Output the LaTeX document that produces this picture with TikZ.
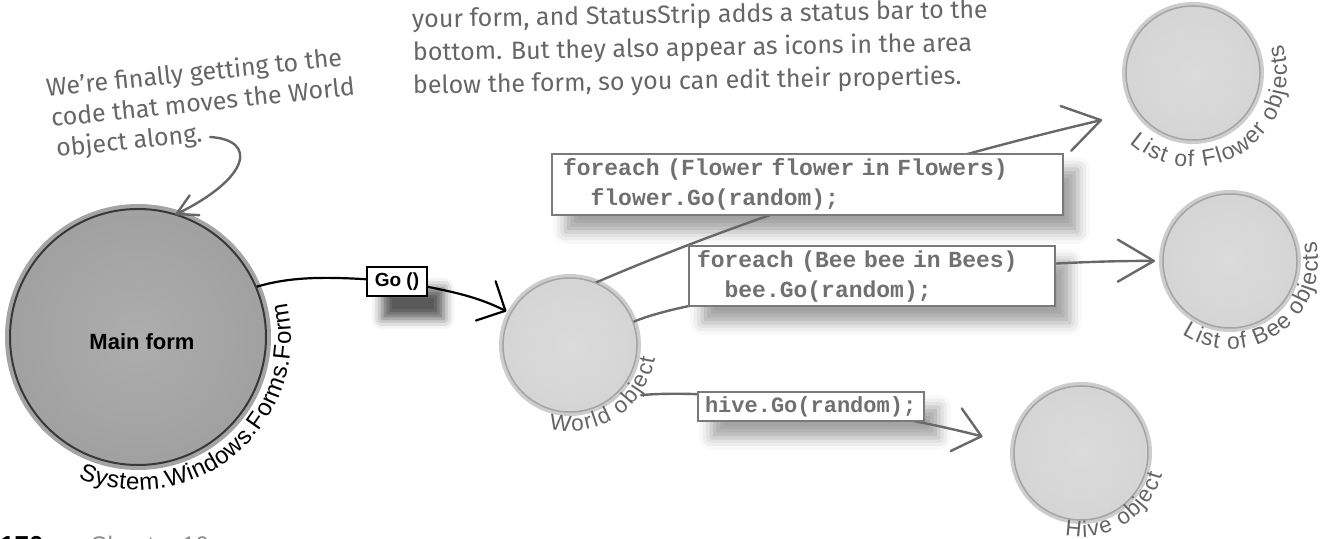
\documentclass[tikz,border=0pt]{standalone}
\usepackage{fontspec}
\setmainfont{Liberation Sans}
\newfontfamily\handfont{Fira Sans}
\newfontfamily\codefont{Liberation Mono}
\usetikzlibrary{arrows.meta,decorations.text,shadows.blur}

\definecolor{handgray}{HTML}{666666}
\definecolor{codegray}{HTML}{707070}
\definecolor{boxgray}{HTML}{7A7A7A}
\definecolor{wiregray}{HTML}{686868}
\definecolor{labelgray}{HTML}{646464}
\definecolor{lightin}{HTML}{DBDBDB}
\definecolor{lightmid}{HTML}{D3D3D3}
\definecolor{lightout}{HTML}{BEBEBE}
\definecolor{lightrim}{HTML}{A4A4A4}
\definecolor{lighthalo}{HTML}{CDCDCD}
\definecolor{darkin}{HTML}{ADADAD}
\definecolor{darkmid}{HTML}{9E9E9E}
\definecolor{darkout}{HTML}{767676}
\definecolor{darkrim}{HTML}{383838}
\definecolor{darkhalo}{HTML}{A4A4A4}

\pgfdeclareradialshading{lightball}{\pgfpoint{0bp}{0bp}}%
  {color(0bp)=(lightin); color(32bp)=(lightmid); color(46bp)=(lightout); color(50bp)=(lightrim)}
\pgfdeclareradialshading{darkball}{\pgfpoint{0bp}{0bp}}%
  {color(0bp)=(darkin); color(30bp)=(darkmid); color(45bp)=(darkout); color(50bp)=(darkout)}

\pgfdeclarelayer{shadowlayer}
\pgfdeclarelayer{wirelayer}
\pgfsetlayers{shadowlayer,wirelayer,main}

\tikzset{
  lightobj/.style={circle, inner sep=0pt, outer sep=0pt, minimum size=134pt,
    shade, shading=lightball, draw=lightrim, line width=1.5pt},
  darkobj/.style={circle, inner sep=0pt, outer sep=0pt, minimum size=256pt,
    shade, shading=darkball, draw=darkrim, line width=2pt},
  codebox/.style={draw=boxgray, line width=1.6pt, fill=white, inner ysep=0pt,
    align=left, text=codegray, font=\codefont\bfseries\fontsize{23}{30}\selectfont},
  boxshadow/.style={blur shadow={shadow xshift=14pt, shadow yshift=-16pt,
    shadow blur radius=12pt, shadow opacity=36}},
  goshadow/.style={blur shadow={shadow xshift=16pt, shadow yshift=-22pt,
    shadow blur radius=10pt, shadow opacity=65}},
  gobox/.style={draw=black, line width=1.8pt, fill=white, inner sep=0pt,
    minimum width=60pt, minimum height=29pt, font=\bfseries\fontsize{19}{19}\selectfont},
  wire/.style={draw=wiregray, line width=2.4pt, line cap=round},
  handtext/.style={inner sep=0pt, anchor=base west, text=handgray,
    font=\handfont\fontsize{25}{33}\selectfont},
  arclabel/.style={decorate, decoration={text along path, text align=fit to path, text={#1}}}
}

\begin{document}
\begin{tikzpicture}[x=1pt,y=1pt]
\useasboundingbox (0,0) rectangle (1330,538);

% ---- object bubbles ----
\node[darkobj] (main) at (138,201) {};
\node[font=\bfseries\fontsize{22}{22}\selectfont] (mainlbl) at (142,196) {Main form};
\node[lightobj] (world) at (570,193) {};
\node[lightobj] (flower) at (1193,465) {};
\node[lightobj] (bee) at (1230,277) {};
\node[lightobj] (hive) at (1081,85) {};

% ---- labels bent round the bubbles ----
\path[arclabel={|\fontsize{24}{24}\selectfont|System.Windows.Forms.Form}]
  ([shift={(-113:153)}]main.center) arc[start angle=-113, end angle=13, radius=153];
\path[arclabel={|\fontsize{22.5}{22.5}\selectfont\color{labelgray}|World object}]
  ([shift={(-104:86)}]world.center) arc[start angle=-104, end angle=-9, radius=86];
\path[arclabel={|\fontsize{23}{23}\selectfont\color{labelgray}|List of Flower objects}]
  ([shift={(-132:94)}]flower.center) arc[start angle=-132, end angle=18, radius=94];
\path[arclabel={|\fontsize{23}{23}\selectfont\color{labelgray}|List of Bee objects}]
  ([shift={(-123:88)}]bee.center) arc[start angle=-123, end angle=13, radius=88];
\path[arclabel={|\fontsize{22.5}{22.5}\selectfont\color{labelgray}|Hive object}]
  ([shift={(-101:84)}]hive.center) arc[start angle=-101, end angle=-15, radius=84];

% ---- code boxes ----
\node[codebox, inner xsep=11pt, text width=489pt, minimum height=61pt] (box1) at (807.5,353.5)
  {foreach (Flower flower in Flowers)\\\phantom{xx}flower.Go(random);};
\node[codebox, inner xsep=8pt, text width=350pt, minimum height=60pt] (box2) at (872,262)
  {foreach (Bee bee in Bees)\\\phantom{xx}bee.Go(random);};
\node[codebox, inner xsep=7pt, text width=212pt, minimum height=29pt,
  font=\codefont\bfseries\fontsize{22}{28}\selectfont] (box3) at (811,131.5) {hive.Go(random);};
\node[gobox] (go) at (397,256.5) {Go ()};

% ---- halos and shadows underneath ----
\begin{pgfonlayer}{shadowlayer}
  \fill[darkhalo] (main.center) circle[radius=133];
  \foreach \b in {world,flower,bee,hive}
    \fill[lighthalo] (\b.center) circle[radius=71];
  \path[boxshadow] (box1.south west) rectangle (box1.north east);
  \path[boxshadow] (box2.south west) rectangle (box2.north east);
  \path[boxshadow] (box3.south west) rectangle (box3.north east);
  \path[goshadow] (go.south west) rectangle (go.north east);
\end{pgfonlayer}

% ---- connectors ----
\begin{pgfonlayer}{wirelayer}
  \draw[black, line width=2.2pt, line cap=round,
        -{Straight Barb[length=22pt,width=44pt,round]}, shorten >=5pt]
    (main.23) .. controls (292,262) and (330,262) .. (go.center)
              .. controls (455,247) and (480,240) .. (world.152);
  \draw[wire, -{Straight Barb[length=36pt,width=46pt,round]}, shorten >=37pt]
    (world.68) .. controls (767,329) and (936,379) .. (flower.215);
  \draw[wire, -{Straight Barb[length=36pt,width=42pt,round]}, shorten >=8pt]
    (world.20) .. controls (700,246) and (1000,278) .. (bee.180);
  \draw[wire, -{Straight Barb[length=26pt,width=44pt,round]}, shorten <=30pt, shorten >=33pt]
    (world.-52) .. controls (720,150) and (880,128) .. (hive.173);
\end{pgfonlayer}

% ---- handwritten notes ----
\node[handtext, rotate=6] (hw1) at (47,441) {We’re finally getting to the};
\node[handtext, rotate=6] (hw2) at (52,411) {code that moves the World};
\node[handtext, rotate=6] (hw3) at (57,381) {object along.};
\coordinate (hwtail) at (210,401);
\draw[handgray, line width=2.4pt, line cap=round,
      -{Straight Barb[length=20pt,width=22pt,round]}]
  (hwtail) .. controls (258,398) and (250,360) .. (main.73);

\node[handtext, rotate=1] (top1) at (412,510) {your form, and StatusStrip adds a status bar to the};
\node[handtext, rotate=1] (top2) at (413,477) {bottom. But they also appear as icons in the area};
\node[handtext, rotate=1] (top3) at (413,444) {below the form, so you can edit their properties.};

% ---- page footer ----
\node[anchor=base west, inner sep=0pt, font=\bfseries\fontsize{26}{26}\selectfont] (pagenum) at (0,-16) {170};
\node[anchor=base west, inner sep=0pt, text=black!45, font=\fontsize{24}{24}\selectfont] (chapter) at (90,-15) {Chapter 10};
\end{tikzpicture}
\end{document}
